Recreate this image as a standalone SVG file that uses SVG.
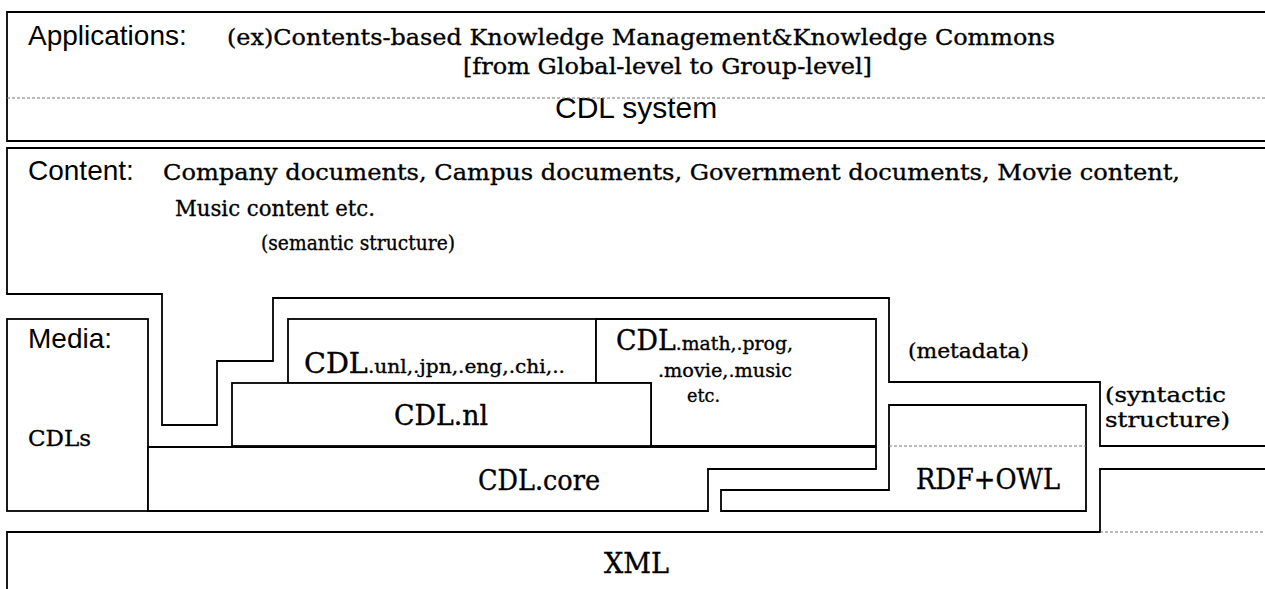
<svg xmlns="http://www.w3.org/2000/svg" width="1265" height="589" viewBox="0 0 1265 589">
  <style>
    .ln { fill: #fff; stroke: #000; stroke-width: 1.8; }
    .open { fill: none; stroke: #000; stroke-width: 1.8; }
    .dash { fill: none; stroke: #777; stroke-width: 1; stroke-dasharray: 3 2; }
    .sans { font-family: "Liberation Sans", Arial, sans-serif; font-size: 28px; fill: #000; }
    .ser { font-family: "DejaVu Serif", "Liberation Serif", serif; font-size: 23px; fill: #000; stroke: #000; stroke-width: 0.35; }
    .small { font-size: 20px; }
    .big { font-size: 27px; }
    .sub { font-size: 19px; }
  </style>
  <rect width="1265" height="589" fill="#fff"/>

  <!-- Layer: applications on top of the CDL system -->
  <g id="applications">
    <path class="open" d="M1265,12 H7 V141 H1265"/>
    <text class="sans" x="28" y="45">Applications:</text>
    <text class="ser" x="227" y="45" textLength="828" lengthAdjust="spacingAndGlyphs">(ex)Contents-based Knowledge Management&amp;Knowledge Commons</text>
    <text class="ser" x="463" y="74" textLength="409" lengthAdjust="spacingAndGlyphs">[from Global-level to Group-level]</text>
    <text class="sans" x="555" y="118" style="font-size:30px">CDL system</text>
  </g>

  <!-- Layer: content, stepping down over the media layers -->
  <g id="content">
    <path class="open" d="M1265,148 H7 V294 H162 V425 H217 V361 H273 V298 H889 V382 H1100 V446 H1265"/>
    <text class="sans" x="28" y="180">Content:</text>
    <text class="ser" x="163" y="180" textLength="1017" lengthAdjust="spacingAndGlyphs">Company documents, Campus documents, Government documents, Movie content,</text>
    <text class="ser" x="175" y="216" textLength="200" lengthAdjust="spacingAndGlyphs">Music content etc.</text>
    <text class="ser small" x="261" y="250" textLength="194" lengthAdjust="spacingAndGlyphs">(semantic structure)</text>
    <text class="ser small" x="908" y="358" textLength="121" lengthAdjust="spacingAndGlyphs">(metadata)</text>
    <text class="ser small" x="1105" y="402" textLength="121" lengthAdjust="spacingAndGlyphs">(syntactic</text>
    <text class="ser small" x="1105" y="427" textLength="125" lengthAdjust="spacingAndGlyphs">structure)</text>
  </g>

  <g id="media">
    <rect class="ln" x="7" y="319" width="141" height="192"/>
    <text class="sans" x="28" y="348">Media:</text>
    <text class="ser" x="28" y="446" textLength="63" lengthAdjust="spacingAndGlyphs">CDLs</text>
  </g>

  <g id="cdl-unl">
    <rect class="ln" x="288" y="319" width="308" height="64"/>
    <text class="ser big" x="304" y="373" textLength="261" lengthAdjust="spacingAndGlyphs">CDL<tspan class="sub">.unl,.jpn,.eng,.chi,..</tspan></text>
  </g>

  <g id="cdl-math">
    <path class="ln" d="M596,319 H876 V446 H651 V383 H596 Z"/>
    <text class="ser big" x="616" y="350" textLength="177" lengthAdjust="spacingAndGlyphs">CDL<tspan class="sub">.math,.prog,</tspan></text>
    <text class="ser sub" x="658" y="377" textLength="134" lengthAdjust="spacingAndGlyphs">.movie,.music</text>
    <text class="ser sub" x="687" y="402" textLength="33" lengthAdjust="spacingAndGlyphs">etc.</text>
  </g>

  <g id="cdl-nl">
    <rect class="ln" x="232" y="383" width="419" height="63"/>
    <text class="ser big" x="394" y="425" textLength="94" lengthAdjust="spacingAndGlyphs">CDL.nl</text>
  </g>

  <g id="cdl-core">
    <path class="ln" d="M148,447 H876 V469 H708 V511 H148 Z"/>
    <text class="ser big" x="478" y="490" textLength="122" lengthAdjust="spacingAndGlyphs">CDL.core</text>
  </g>

  <g id="rdf-owl">
    <path class="ln" d="M889,405 H1086 V511 H721 V490 H889 Z"/>
    <text class="ser big" x="916" y="489" textLength="144" lengthAdjust="spacingAndGlyphs">RDF+OWL</text>
  </g>

  <g id="xml">
    <path class="open" d="M7,589 V532 H1100 V469 H1265"/>
    <text class="ser big" x="604" y="573" textLength="65" lengthAdjust="spacingAndGlyphs">XML</text>
  </g>

  <!-- Dotted separators inside layers -->
  <g id="connectors">
    <line class="dash" x1="7" y1="98" x2="1265" y2="98"/>
    <line class="dash" x1="889" y1="446" x2="1086" y2="446"/>
    <line class="dash" x1="1100" y1="532" x2="1265" y2="532"/>
  </g>
</svg>
